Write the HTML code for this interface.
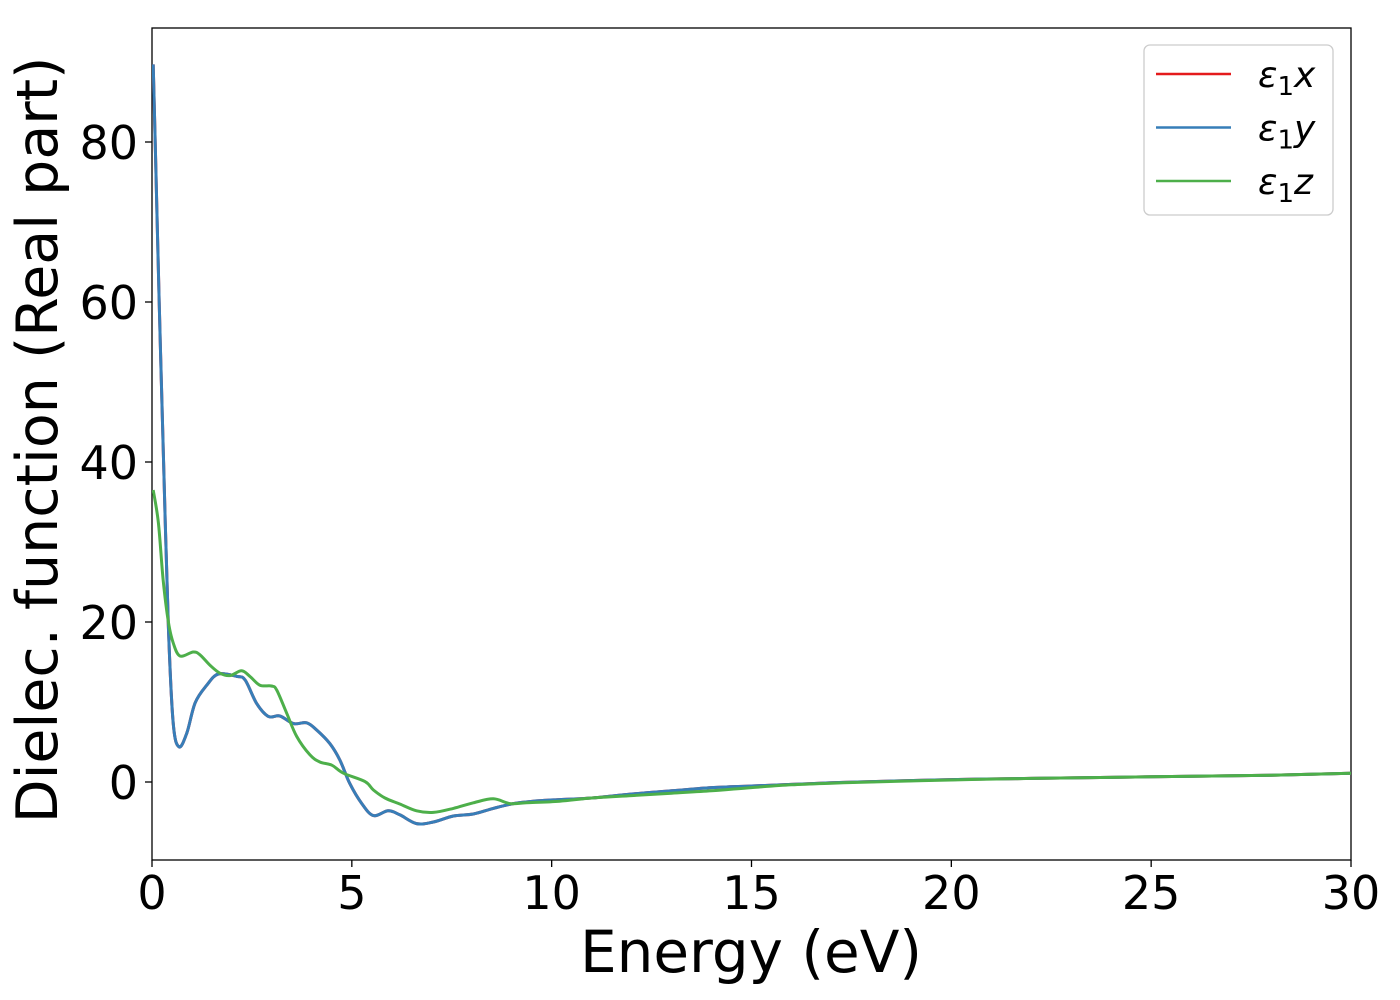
<!DOCTYPE html>
<html><head><meta charset="utf-8">
<style>
body{margin:0;background:#fff;}
svg{display:block;font-family:"DejaVu Sans","Liberation Sans",sans-serif;}
</style></head>
<body>
<svg id="chart" width="1400" height="1000" viewBox="0 0 1400 1000" xmlns="http://www.w3.org/2000/svg">
<rect x="0" y="0" width="1400" height="1000" fill="#fff"/>
<g id="plot"></g>
</svg>
<script>
const xTicks=[0,5,10,15,20,25,30];
const yTicks=[0,20,40,60,80];
const eXY=[0.03,0.08,0.18,0.29,0.41,0.53,0.675,0.87,1.08,1.37,1.66,2.12,2.33,2.62,2.91,3.2,3.54,3.87,4.12,4.45,4.7,4.95,5.25,5.54,5.91,6.2,6.62,7.04,7.54,8.04,8.54,9.04,9.54,10.2,11,12,13,14,15,16,17,18,20,22,25,28,30];
const vX=[89.7,80,60,40,19.4,7.4,4.4,6.1,9.9,12.1,13.5,13.2,12.75,9.8,8.2,8.25,7.3,7.4,6.5,4.8,2.75,-0.2,-2.7,-4.2,-3.6,-4.1,-5.2,-5.0,-4.25,-4.0,-3.3,-2.7,-2.4,-2.2,-2.0,-1.5,-1.1,-0.7,-0.5,-0.3,-0.1,0.05,0.3,0.45,0.65,0.85,1.1];
const vY=[89.7,80,60,40,19.4,7.4,4.4,6.1,9.9,12.1,13.5,13.2,12.75,9.8,8.2,8.25,7.3,7.4,6.5,4.8,2.75,-0.2,-2.7,-4.2,-3.6,-4.1,-5.2,-5.0,-4.25,-4.0,-3.3,-2.7,-2.4,-2.2,-2.0,-1.5,-1.1,-0.7,-0.5,-0.3,-0.1,0.05,0.3,0.45,0.65,0.85,1.1];
const eZ=[0.03,0.16,0.28,0.41,0.53,0.7,1.03,1.2,1.45,1.7,1.95,2.24,2.45,2.7,2.99,3.12,3.37,3.62,3.95,4.2,4.5,4.79,5.33,5.54,5.83,6.2,6.62,7.04,7.54,8.04,8.54,8.96,9.37,10.2,11,12,13,14,15,16,17,18,20,22,25,28,30];
const vZ=[36.5,32.4,25.2,20,17.4,15.75,16.25,15.9,14.6,13.6,13.3,13.9,13.2,12.1,12.0,11.5,8.6,5.7,3.4,2.5,2.1,1.1,0.05,-1.0,-2.0,-2.75,-3.6,-3.8,-3.3,-2.6,-2.1,-2.7,-2.6,-2.4,-2.0,-1.7,-1.4,-1.1,-0.7,-0.35,-0.15,0.0,0.25,0.45,0.65,0.85,1.1];

const L=152,R=1351,T=28,B=860;
const xMin=0,xMax=30,yMin=-9.75,yMax=94.25;
function sx(v){return L+(v-xMin)/(xMax-xMin)*(R-L);}
function sy(v){return B-(v-yMin)/(yMax-yMin)*(B-T);}
const NS='http://www.w3.org/2000/svg';
const g=document.getElementById('plot');
function mk(tag,attrs,parent){const e=document.createElementNS(NS,tag);for(const k in attrs)e.setAttribute(k,attrs[k]);(parent||g).appendChild(e);return e;}

const defs=mk('defs',{});
const cp=mk('clipPath',{id:'clip'},defs);
mk('rect',{x:L,y:T,width:R-L,height:B-T},cp);

const frame=mk('rect',{x:L,y:T,width:R-L,height:B-T,fill:'none',stroke:'#000','stroke-width':1.3});



xTicks.forEach(t=>{
  const ln=mk('line',{x1:sx(t),x2:sx(t),y1:B,y2:B+7,stroke:'#000','stroke-width':1.3});
  
  
  const tx=mk('text',{x:sx(t),y:B+49,'text-anchor':'middle','font-size':46,fill:'#000'});
  tx.textContent=t;
  
  
});
yTicks.forEach(t=>{
  const ln=mk('line',{x1:L-7,x2:L,y1:sy(t),y2:sy(t),stroke:'#000','stroke-width':1.3});
  
  
  const tx=mk('text',{x:L-14,y:sy(t)+17,'text-anchor':'end','font-size':46,fill:'#000'});
  tx.textContent=t;
  
  
});

function path(xs,ys,color,name){
  const P=xs.map((x,i)=>[sx(x),sy(ys[i])]);
  let d='M'+P[0][0].toFixed(2)+','+P[0][1].toFixed(2);
  for(let i=0;i<P.length-1;i++){
    const p0=P[i-1]||P[i],p1=P[i],p2=P[i+1],p3=P[i+2]||P[i+1];
    const c1=[p1[0]+(p2[0]-p0[0])/6,p1[1]+(p2[1]-p0[1])/6];
    const c2=[p2[0]-(p3[0]-p1[0])/6,p2[1]-(p3[1]-p1[1])/6];
    d+='C'+c1[0].toFixed(2)+','+c1[1].toFixed(2)+' '+c2[0].toFixed(2)+','+c2[1].toFixed(2)+' '+p2[0].toFixed(2)+','+p2[1].toFixed(2);
  }
  const p=mk('path',{d:d,fill:'none',stroke:color,'stroke-width':3,'stroke-linejoin':'round','clip-path':'url(#clip)'});
  
  
}
path(eXY,vX,'#e41a1c','series-eps1-x');
path(eXY,vY,'#377eb8','series-eps1-y');
path(eZ,vZ,'#4daf4a','series-eps1-z');

const xt=mk('text',{x:751,y:972,'text-anchor':'middle','font-size':58,fill:'#000'});
xt.textContent='Energy (eV)';


const yt=mk('text',{x:0,y:0,'text-anchor':'middle','font-size':57,fill:'#000',transform:'translate(57,440) rotate(-90)'});
yt.textContent='Dielec. function (Real part)';



const lg=mk('g',{});


mk('rect',{x:1144,y:45,width:189,height:170,rx:6,fill:'#fff','fill-opacity':0.8,stroke:'#ccc','stroke-width':1.3},lg);
const legNames=['x','y','z'];
const legColors=['#e41a1c','#377eb8','#4daf4a'];
legNames.forEach((n,i)=>{
  const y=74+i*53.5;
  const e=mk('g',{},lg);
  
  
  mk('line',{x1:1156,x2:1231,y1:y,y2:y,stroke:legColors[i],'stroke-width':2.6},e);
  const t=mk('text',{x:1258,y:y+13,'font-size':36,fill:'#000'},e);
  const a=mk('tspan',{'font-style':'italic'},t);a.textContent='ε';
  const b=mk('tspan',{'font-size':26,dy:8},t);b.textContent='1';
  const c=mk('tspan',{'font-style':'italic',dy:-8},t);c.textContent=n;
});
</script>
</body></html>
